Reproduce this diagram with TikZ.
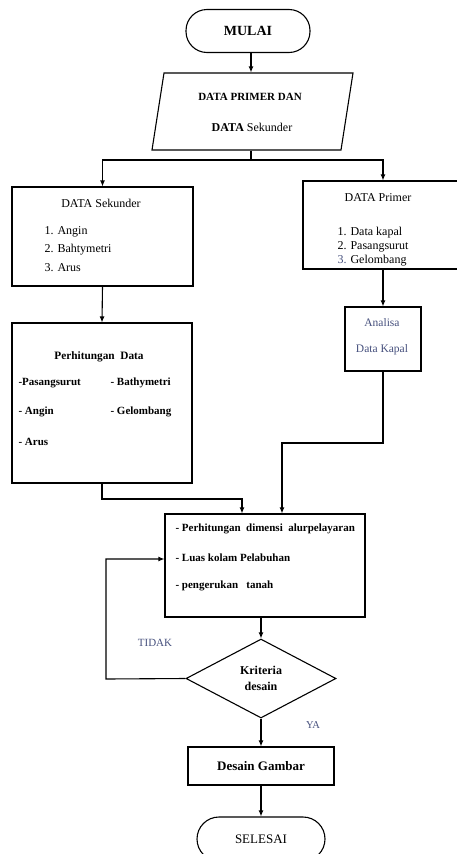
\documentclass[tikz,border=0pt]{standalone}
\usepackage{fontspec}
\setmainfont{Liberation Serif}
\usetikzlibrary{arrows.meta,shapes.geometric}
\definecolor{lblc}{RGB}{70,80,125}
\begin{document}
\begin{tikzpicture}[x=1pt,y=-1pt,
  line width=1.1pt,
  box/.style={draw, rectangle, inner sep=0pt},
  arr/.style={-{Latex[length=6pt,width=5pt]}},
  txt/.style={inner sep=0pt, anchor=west},
  ctxt/.style={inner sep=0pt},
  f12/.style={font=\fontsize{12}{14}\selectfont},
  f11b/.style={font=\fontsize{11}{13}\selectfont\bfseries},
  lbl/.style={inner sep=0pt, text=lblc}]
\useasboundingbox (0,0) rectangle (457,854);
% start
\node[box, rounded corners=21pt, minimum width=124pt, minimum height=43pt,
  font=\fontsize{14}{16}\selectfont\bfseries] (mulai) at (248,31) {MULAI};
% input parallelogram
\draw (164,73) -- (353,73) -- (341,150) -- (152,150) -- cycle;
\node[inner sep=0pt, minimum width=180pt, minimum height=77pt] (inp) at (251,111.5) {};
\node[ctxt, font=\fontsize{11}{13}\selectfont\bfseries] (inpt1) at (250,97) {DATA PRIMER DAN};
\node[ctxt, font=\fontsize{12}{13}\selectfont] (inpt2) at (252,127) {\textbf{DATA} Sekunder};
% data sekunder
\node[box, minimum width=181pt, minimum height=99pt] (sek) at (102.5,236.5) {};
\node[ctxt, f12] (sekt) at (101,203) {DATA Sekunder};
\node[txt, f12] (sek1) at (44,232) {1. Angin};
\node[txt, f12] (sek2) at (44,250) {2. Bahtymetri};
\node[txt, f12] (sek3) at (44,268) {3. Arus};
% data primer
\node[box, minimum width=160pt, minimum height=88pt] (pri) at (383,225) {};
\node[ctxt, f12] (prit) at (378,198) {DATA Primer};
\node[txt, f12] (pri1) at (337,233) {1. Data kapal};
\node[txt, f12] (pri2) at (337,247) {2. Pasangsurut};
\node[txt, f12] (pri3) at (337,261) {\textcolor{lblc}{3.} Gelombang};
% perhitungan data
\node[box, minimum width=180pt, minimum height=160pt] (perh) at (102,403) {};
\node[ctxt, font=\fontsize{11.3}{13}\selectfont\bfseries] (perht) at (99,357) {Perhitungan\ \ Data};
\node[txt, f11b] (perh1) at (18,383) {-Pasangsurut};
\node[txt, f11b] (perh2) at (110,383) {- Bathymetri};
\node[txt, f11b] (perh3) at (18,412) {- Angin};
\node[txt, f11b] (perh4) at (110,412) {- Gelombang};
\node[txt, f11b] (perh5) at (18,442) {- Arus};
% analisa
\node[box, minimum width=76pt, minimum height=64pt] (ana) at (383,339) {};
\node[lbl, font=\fontsize{11.5}{13}\selectfont] (ana1) at (382,323) {Analisa};
\node[lbl, font=\fontsize{11.5}{13}\selectfont] (ana2) at (382,350) {Data Kapal};
% main process
\node[box, minimum width=200pt, minimum height=103pt] (main) at (265,565.5) {};
\node[txt, f11b] (main1) at (175,529) {- Perhitungan\ \ dimensi\ \ alurpelayaran};
\node[txt, f11b] (main2) at (175,558) {- Luas\ kolam\ Pelabuhan};
\node[txt, f11b] (main3) at (175,586) {- pengerukan\ \ \ tanah};
% decision
\node[draw, diamond, inner sep=0pt, minimum width=150pt, minimum height=79pt,
  align=center, font=\fontsize{12}{16}\selectfont\bfseries] (dia) at (261,678.5) {Kriteria\\desain};
\node[lbl, font=\fontsize{11}{13}\selectfont] (tidak) at (155,643) {TIDAK};
\node[lbl, font=\fontsize{10.5}{12}\selectfont] (ya) at (313,725) {YA};
% desain gambar
\node[box, minimum width=146pt, minimum height=38pt,
  font=\fontsize{13}{15}\selectfont\bfseries] (des) at (261,766) {Desain Gambar};
% end
\node[box, rounded corners=22pt, minimum width=128pt, minimum height=44pt,
  font=\fontsize{13}{15}\selectfont] (sel) at (261,839) {SELESAI};
% connectors
\coordinate (split) at (251,160);
\coordinate (j1) at (242,499);
\coordinate (j2) at (282,443);
\coordinate (lp) at (106,679);
\coordinate (lpt) at (106,559);
\draw[arr] (mulai.south -| inp.north) -- (inp.north);
\draw (inp.south) -- (split);
\draw[arr] (split) -| (sek.north);
\draw[arr] (split) -| (pri.north);
\draw[arr] (sek.south) -- (perh.north);
\draw[arr] (pri.south) -- (ana.north);
\draw[arr] (perh.south) |- (j1) -- (j1 |- main.north);
\draw[arr] (ana.south) |- (j2) -- (j2 |- main.north);
\draw[arr] (main.south -| dia.north) -- (dia.north);
\draw[arr] (dia.west) -- (lp) -- (lpt) -- (lpt -| main.west);
\draw[arr] (dia.south) -- (des.north);
\draw[arr] (des.south) -- (sel.north);
\end{tikzpicture}
\end{document}
